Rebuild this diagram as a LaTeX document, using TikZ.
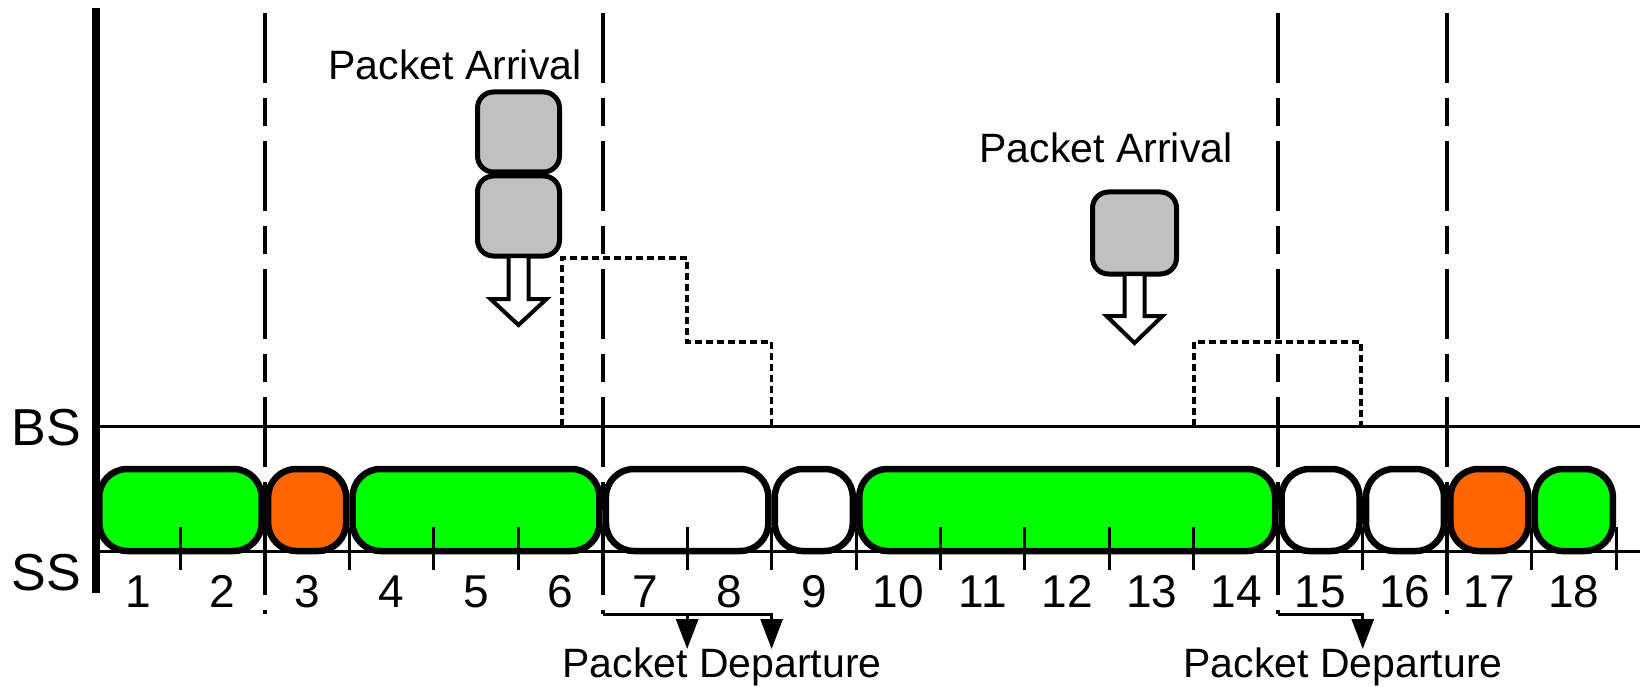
\documentclass[tikz,border=0pt]{standalone}
\usepackage{fontspec}
\setmainfont{Liberation Sans}
\usetikzlibrary{arrows.meta}
\definecolor{slotgreen}{HTML}{00FF00}
\definecolor{slotorange}{HTML}{FF6600}
\definecolor{pktgray}{HTML}{C0C0C0}
\begin{document}
\begin{tikzpicture}[x=1pt, y=-1pt,
  slotbox/.style={draw, line width=6.5pt, rounded corners=28pt, minimum height=82pt, inner sep=0pt, outer sep=0pt},
  pktbox/.style={draw, line width=5pt, fill=pktgray, rounded corners=16pt, inner sep=0pt, outer sep=0pt},
  frameline/.style={line width=4pt, dash pattern=on 70pt off 15pt on 28pt off 15pt},
  axisline/.style={line width=8pt},
  levelline/.style={line width=3pt},
  tickline/.style={line width=3pt},
  queueline/.style={line width=3.5pt, dash pattern=on 7pt off 4pt},
  hollow/.style={draw, fill=white, line width=4pt, line join=miter},
  depline/.style={line width=3pt},
  deptip/.style={-{Triangle[width=22pt,length=30pt]}},
  lbl/.style={font=\fontsize{41}{41}\selectfont, inner sep=0pt, anchor=base},
  num/.style={font=\fontsize{46}{46}\selectfont, inner sep=0pt, anchor=base},
  side/.style={font=\fontsize{52}{52}\selectfont, inner sep=0pt, anchor=base}]
\useasboundingbox (0,0) rectangle (1640,687);

% frame boundaries (dash-dot)
\foreach \k/\nm in {2/fa,6/fb,14/fc,16/fd}{
  \coordinate (\nm top) at ({96+84.45*\k},13);
  \coordinate (\nm end) at ({96+84.45*\k},614);
  \draw[frameline] (\nm top) -- (\nm end);
}

% BS and SS levels
\draw[levelline] (96,426) -- (1640,426);
\draw[levelline] (96,551) -- (1640,551);

% queue length staircases
\draw[queueline] (562,426) -- (562,258) -- (687.15,258) -- (687.15,342) -- (771.6,342) -- (771.6,426);
\draw[queueline] (1193.85,426) -- (1193.85,342) -- (1361,342) -- (1361,426);

% time axis
\draw[axisline] (96,8) -- (96,593);

% slot blocks
\foreach \n/\a/\b/\c in {s1/0/2/slotgreen, s3/2/3/slotorange, s4/3/6/slotgreen,
    s7/6/8/white, s9/8/9/white, s10/9/14/slotgreen, s15/14/15/white,
    s16/15/16/white, s17/16/17/slotorange, s18/17/18/slotgreen}{
  \pgfmathsetmacro\w{84.45*(\b-\a)-6.5}
  \node[slotbox, fill=\c, minimum width=\w pt] (\n) at ({96+84.45*(\a+\b)/2},510) {};
}

% slot ticks and numbers
\foreach \k in {1,...,18}{
  \draw[tickline] ({96+84.45*\k},527) -- ++(0,43);
  \node[num] (n\k) at ({96+84.45*(\k-0.5)},607) {\k};
}

\node[side] (bs) at (46,445) {BS};
\node[side] (ss) at (46,590) {SS};

% arriving packets
\node[pktbox, minimum width=82pt, minimum height=80pt] (pa) at (518.5,132) {};
\node[pktbox, minimum width=82pt, minimum height=80pt] (pb) at (518.5,216) {};
\node[pktbox, minimum width=84pt, minimum height=82pt] (pc) at (1134.5,233) {};

\draw[hollow] ([xshift=-10pt]pb.south) -- ++(0,43) -- ++(-18,0) -- ++(28,26)
  -- ++(28,-26) -- ++(-18,0) -- ++(0,-43) -- cycle;
\draw[hollow] ([xshift=-10pt]pc.south) -- ++(0,42) -- ++(-18,0) -- ++(28,27)
  -- ++(28,-27) -- ++(-18,0) -- ++(0,-42) -- cycle;

\node[lbl] (arr1) at (455,80) {Packet Arrival};
\node[lbl] (arr2) at (1106,163) {Packet Arrival};

% departures
\coordinate (d1) at (687.15,649);
\coordinate (d2) at (771.6,649);
\coordinate (d3) at (1362.75,649);
\draw[depline, deptip] (fbend) -| (d2);
\draw[depline, deptip] (d1 |- fbend) -- (d1);
\draw[depline, deptip] (fcend) -| (d3);

\node[lbl] (dep1) at (722,677) {Packet Departure};
\node[lbl] (dep2) at (1343,677) {Packet Departure};
\end{tikzpicture}
\end{document}
